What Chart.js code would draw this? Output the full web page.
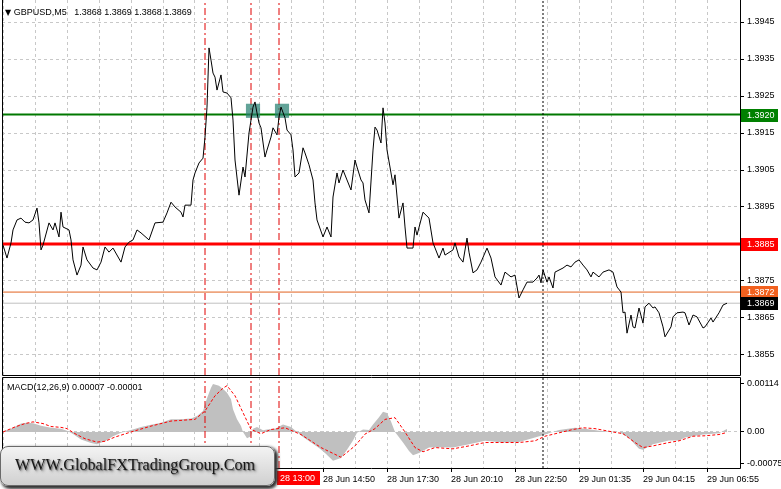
<!DOCTYPE html>
<html>
<head>
<meta charset="utf-8">
<script src="https://cdn.jsdelivr.net/npm/chart.js@4.4.1/dist/chart.umd.min.js"></script>
<style>
html,body{margin:0;padding:0;background:#fff;width:781px;height:489px;overflow:hidden;position:relative;}
canvas{position:absolute;left:0;}
#main{top:0;}
#macd{top:376px;}
.lbl{position:absolute;font-family:"Liberation Sans",Arial,sans-serif;font-size:9px;line-height:9px;color:#000;white-space:pre;}
.tri{font-family:"DejaVu Sans",sans-serif;font-size:8px;}
#wm{position:absolute;left:0;top:446px;width:273px;height:38px;border-radius:8px;background:linear-gradient(#f3f3f3,#d0d0d0);border:1px solid #6a6a6a;box-shadow:2px 2px 3px 1px #333;overflow:hidden;}
#wm span{position:absolute;left:14px;top:9px;font-family:"Liberation Serif","Times New Roman",serif;font-size:17px;line-height:17px;color:#161616;white-space:nowrap;text-shadow:1px 1px 1px #777,2px 2px 3px #888;transform:scaleX(0.95);transform-origin:left top;}
</style>
</head>
<body>
<canvas id="main" width="781" height="376"></canvas>
<canvas id="macd" width="781" height="113"></canvas>
<div class="lbl" style="left:5px;top:8px"><span class="tri">▼</span> GBPUSD,M5   1.3868 1.3869 1.3868 1.3869</div>
<div class="lbl" style="left:7px;top:383px">MACD(12,26,9) 0.00007 -0.00001</div>
<div id="wm"><span>WWW.GlobalFXTradingGroup.Com</span></div>
<script>
// ---------- DATA (5-minute bars counted from the left edge of the window) ----------
const priceBars = [
  0,2,4,5,7,9,11,13,15,17,
  18,19,20,23,25,26,28,29,30,33,
  34,35,37,39,40,42,45,47,49,51,
  53,55,59,61,63,65,67,69,73,76,
  80,82,84,86,89,90,91,94,95,96,
  98,100,101,102,103,104,105,106,107,109,
  110,112,114,115,116,118,120,121,123,125,
  126,127,128,129,131,132,134,135,137,138,
  139,141,142,144,145,146,148,150,151,153,
  155,156,157,160,162,164,165,167,168,170,
  172,174,176,177,179,180,181,183,185,186,
  187,189,190,191,192,194,195,196,198,200,
  201,202,205,206,207,210,213,215,218,220,
  221,225,226,228,230,232,233,235,237,239,
  242,244,246,249,251,254,256,258,260,262,
  265,267,268,269,270,272,273,275,276,280,
  282,284,286,288,290,292,294,295,298,300,
  303,305,307,309,310,311,312,314,315,316,
  318,320,321,323,325,326,328,330,331,334,
  335,337,340,341,343,345,347,350,351,354,
  355,358,360,362
];
const priceClose = [
  1.38847,1.38812,1.38853,1.38888,1.38915,1.38920,1.38909,1.38907,1.38915,1.38947,
  1.38907,1.38834,1.38847,1.38907,1.38888,1.38907,1.38869,1.38936,1.38896,1.38888,
  1.38861,1.38807,1.38766,1.38793,1.38842,1.38807,1.38785,1.38780,1.38801,1.38842,
  1.38828,1.38839,1.38801,1.38842,1.38855,1.38861,1.38888,1.38880,1.38861,1.38907,
  1.38909,1.38934,1.38963,1.38950,1.38936,1.38923,1.38955,1.38955,1.39023,1.39042,
  1.39069,1.39082,1.39139,1.39220,1.39380,1.39347,1.39312,1.39301,1.39266,1.39307,
  1.39261,1.39258,1.39245,1.39185,1.39077,1.38982,1.39058,1.39031,1.39150,1.39220,
  1.39234,1.39204,1.39177,1.39164,1.39085,1.39104,1.39139,1.39164,1.39145,1.39193,
  1.39220,1.39191,1.39158,1.39145,1.39104,1.39031,1.39042,1.39110,1.39096,1.39064,
  1.39023,1.38961,1.38915,1.38869,1.38896,1.38869,1.38977,1.39042,1.39015,1.39050,
  1.39023,1.38996,1.39077,1.39058,1.39023,1.39015,1.38969,1.38934,1.39104,1.39166,
  1.39158,1.39123,1.39218,1.39177,1.39104,1.39042,1.39010,1.39037,1.38920,1.38961,
  1.38896,1.38839,1.38839,1.38896,1.38874,1.38936,1.38920,1.38853,1.38812,1.38839,
  1.38820,1.38834,1.38853,1.38815,1.38801,1.38866,1.38828,1.38772,1.38780,1.38801,
  1.38839,1.38812,1.38761,1.38739,1.38774,1.38761,1.38766,1.38704,1.38726,1.38747,
  1.38747,1.38758,1.38766,1.38745,1.38780,1.38747,1.38761,1.38731,1.38774,1.38785,
  1.38793,1.38788,1.38801,1.38807,1.38793,1.38780,1.38761,1.38774,1.38761,1.38774,
  1.38780,1.38774,1.38734,1.38720,1.38664,1.38666,1.38609,1.38658,1.38626,1.38623,
  1.38677,1.38636,1.38680,1.38690,1.38677,1.38680,1.38664,1.38626,1.38599,1.38626,
  1.38653,1.38664,1.38666,1.38664,1.38631,1.38658,1.38653,1.38623,1.38626,1.38650,
  1.38639,1.38664,1.38685,1.38690
];
const macdBars = [
  0,4,9,12,15,19,24,29,32,35,
  39,44,47,51,55,59,64,69,74,79,
  84,89,94,97,100,102,104,105,108,110,
  112,114,115,117,119,120,122,124,125,127,
  130,132,136,140,144,147,150,154,158,161,
  165,169,172,175,177,180,183,185,188,190,
  192,194,196,200,203,205,208,213,218,225,
  233,241,250,258,266,271,278,286,291,300,
  308,313,318,320,325,333,338,341,350,358,
  361,362
];
const macdMain = [
  0.00002,0.00008,0.0002,0.00022,0.00021,0.00015,0.0001,0.00008,0.00003,-0.00005,
  -0.00018,-0.00026,-0.00029,-0.00022,-0.0001,-0.00002,0.00005,0.00012,0.00017,0.00022,
  0.0003,0.0003,0.00032,0.00038,0.0005,0.0008,0.00105,0.00114,0.0011,0.00102,
  0.00093,0.00078,0.00054,0.0003,0.00014,0.0,-0.00015,-0.0001,0.00008,0.00012,
  0.00004,0.00006,0.00008,0.00018,0.00012,0.0,-0.00012,-0.00025,-0.00038,-0.0005,
  -0.00068,-0.00062,-0.00042,-0.0002,-0.00002,0.00006,0.00005,0.00018,0.00035,0.00048,
  0.00045,0.00025,0.0,-0.00025,-0.00045,-0.00055,-0.0005,-0.00037,-0.00036,-0.00037,
  -0.00029,-0.00021,-0.00025,-0.00024,-0.00013,-0.00006,0.00005,0.0001,0.00008,0.00002,
  0.0,-0.00014,-0.0004,-0.00042,-0.00029,-0.0002,-0.0002,-0.00013,-0.00006,-0.00003,
  0.00005,0.00007
];
const signalBars = [
  0,6,11,15,20,24,29,32,36,41,
  47,51,56,64,74,84,96,101,106,110,
  112,116,120,124,129,134,141,149,159,169,
  176,181,186,191,196,201,206,210,216,225,
  233,241,258,266,271,278,285,290,296,305,
  310,316,320,325,333,338,345,351,358,362
];
const macdSignal = [
  0.0,0.00012,0.0002,0.00024,0.0002,0.00013,0.00011,0.00008,-0.00004,-0.00016,
  -0.00024,-0.00022,-0.00012,0.0,0.00014,0.00026,0.0003,0.0005,0.00086,0.00104,
  0.0011,0.00086,0.00046,0.00006,-0.00004,0.00006,0.0001,-0.00006,-0.00037,-0.0006,
  -0.00033,-0.00005,0.00008,0.0003,0.00034,0.0,-0.00037,-0.00047,-0.00037,-0.0004,
  -0.00033,-0.00025,-0.00025,-0.00021,-0.0001,-0.00002,0.00006,0.0001,0.00008,0.0,
  -0.00004,-0.00025,-0.00037,-0.00033,-0.00025,-0.00021,-0.0001,-0.00009,-0.00006,-0.00001
];
const priceTicks = [1.3855,1.3865,1.3875,1.3885,1.3895,1.3905,1.3915,1.3925,1.3935,1.3945];
const macdTicks = [-0.00075,0,0.00114];
const gridBars = [0,16,32,48,64,80,96,112,128,144,160,176,192,208,224,240,256,272,288,304,320,336,352];
const timeTickBars = [160,192,224,256,288,320,352];
const timeTickLabels = ['28 Jun 14:50','28 Jun 17:30','28 Jun 20:10','28 Jun 22:50','29 Jun 01:35','29 Jun 04:15','29 Jun 06:55'];
const levelPrices = [1.3920,1.3885,1.3872,1.3869];
const levelLabels = ['1.3920','1.3885','1.3872','1.3869'];
const markerBars = [125,139.5];
const markerPrices = [1.3921,1.3921];
const redLineBars = [101,124,138];
const dayLineBar = 270;
const cursorLabel = '28 13:00';

// ---------- STYLE ----------
const X_MIN=-0.5, X_MAX=368.5;
const PRICE_MIN=1.384959, PRICE_MAX=1.395095;
const MACD_MIN=-0.000855, MACD_MAX=0.001306;
const FONT='"Liberation Sans", Arial, sans-serif';
const GRID='#c8c8c8';
const levelLine = [{c:'#007800',w:2},{c:'#ff0000',w:3},{c:'#e2621f',w:1},{c:'#c0c0c0',w:1}];
const levelBox = ['#008000','#ff0000','#f2611f','#000000'];

const hLine = v => [{x:X_MIN,y:v},{x:X_MAX,y:v}];
const vLine = (b,lo,hi) => [{x:b,y:lo},{x:b,y:hi}];
const pts = (xs,ys) => xs.map((b,i)=>({x:b,y:ys[i]}));
const noPad = s => { s.paddingTop=0; s.paddingBottom=0; s.paddingLeft=0; s.paddingRight=0; };

const framePlugin = (full) => ({
  id:'frame',
  afterDraw(c){
    const {ctx, chartArea:a} = c;
    ctx.save(); ctx.strokeStyle='#000'; ctx.lineWidth=1; ctx.setLineDash([]);
    ctx.beginPath();
    ctx.moveTo(a.left+0.5, full ? a.top+0.5 : a.top); ctx.lineTo(a.left+0.5, a.bottom+0.5);
    ctx.lineTo(a.right+0.5, a.bottom+0.5); ctx.lineTo(a.right+0.5, full ? a.top+0.5 : a.top);
    if (full) ctx.lineTo(a.left+0.5, a.top+0.5);
    ctx.stroke(); ctx.restore();
  }
});

const levelBoxPlugin = {
  id:'levelBoxes',
  afterDraw(c){
    const {ctx} = c; const y = c.scales.y; const a = c.chartArea;
    ctx.save();
    ctx.font = '9px ' + FONT; ctx.textBaseline='middle'; ctx.textAlign='left';
    levelPrices.forEach((p,i)=>{
      const py = Math.round(y.getPixelForValue(p));
      ctx.fillStyle = levelBox[i];
      ctx.fillRect(a.right+1, py-6, 37, 13);
      ctx.fillStyle = '#fff';
      ctx.fillText(levelLabels[i], a.right+7, py+0.5);
    });
    ctx.restore();
  }
};

const cursorPlugin = {
  id:'cursorLabel',
  afterDraw(c){
    const {ctx} = c; const x = c.scales.x; const a = c.chartArea;
    const px = Math.round(x.getPixelForValue(redLineBars[2]));
    ctx.save();
    ctx.fillStyle='#ff0000';
    ctx.fillRect(px-2, a.bottom+3, 43, 14);
    ctx.fillStyle='#fff'; ctx.font='9px '+FONT; ctx.textBaseline='middle'; ctx.textAlign='left';
    ctx.fillText(cursorLabel, px+1, a.bottom+10.5);
    ctx.restore();
  }
};

// ---------- MAIN PRICE PANEL ----------
const mainSets = [
  {data:pts(priceBars,priceClose), borderColor:'#000', borderWidth:1, pointRadius:0, tension:0, order:0},
  {data:pts(markerBars,markerPrices), showLine:false, pointStyle:'rect', pointRadius:10, pointBackgroundColor:'rgba(38,128,112,0.72)', pointBorderWidth:0, order:1}
];
levelPrices.forEach((p,i)=>mainSets.push({data:hLine(p), borderColor:levelLine[i].c, borderWidth:levelLine[i].w, pointRadius:0, order:3-i*0.1}));
redLineBars.forEach(b=>mainSets.push({data:vLine(b,PRICE_MIN,PRICE_MAX), borderColor:'#e00000', borderWidth:1, borderDash:[7,3,2,3], pointRadius:0, order:2}));
mainSets.push({data:vLine(dayLineBar,PRICE_MIN,PRICE_MAX), borderColor:'#000', borderWidth:1, borderDash:[2,2], pointRadius:0, order:2});

new Chart(document.getElementById('main'), {
  type:'line',
  data:{datasets:mainSets},
  options:{
    responsive:false, animation:false, devicePixelRatio:1,
    layout:{autoPadding:false, padding:{left:2,right:0,top:0,bottom:1}},
    plugins:{legend:{display:false}, tooltip:{enabled:false}},
    scales:{
      x:{type:'linear', min:X_MIN, max:X_MAX,
         afterBuildTicks:s=>{s.ticks=gridBars.map(v=>({value:v}));},
         afterFit:s=>{s.height=0; noPad(s);},
         ticks:{display:false},
         grid:{color:GRID, drawTicks:false},
         border:{display:false, dash:[3,3]}},
      y:{position:'right', min:PRICE_MIN, max:PRICE_MAX,
         afterBuildTicks:s=>{s.ticks=priceTicks.map(v=>({value:v}));},
         afterFit:s=>{s.width=41; noPad(s);},
         ticks:{font:{family:FONT,size:9}, color:'#000', padding:3, callback:v=>v.toFixed(4)},
         grid:{color:GRID, tickColor:'#000', tickLength:4},
         border:{display:false, dash:[3,3]}}
    }
  },
  plugins:[framePlugin(false), levelBoxPlugin]
});

// ---------- MACD PANEL ----------
const macdSets = [
  {data:pts(signalBars,macdSignal), borderColor:'#ff0000', borderWidth:1, borderDash:[3,2], pointRadius:0, tension:0, order:0},
  {data:pts(macdBars,macdMain), borderColor:'rgba(0,0,0,0)', borderWidth:0, backgroundColor:'#c0c0c0', fill:'origin', pointRadius:0, tension:0, order:5}
];
redLineBars.forEach(b=>macdSets.push({data:vLine(b,MACD_MIN,MACD_MAX), borderColor:'#e00000', borderWidth:1, borderDash:[7,3,2,3], pointRadius:0, order:1}));
macdSets.push({data:vLine(dayLineBar,MACD_MIN,MACD_MAX), borderColor:'#000', borderWidth:1, borderDash:[2,2], pointRadius:0, order:1});

new Chart(document.getElementById('macd'), {
  type:'line',
  data:{datasets:macdSets},
  options:{
    responsive:false, animation:false, devicePixelRatio:1,
    layout:{autoPadding:false, padding:{left:2,right:0,top:1,bottom:0}},
    plugins:{legend:{display:false}, tooltip:{enabled:false}},
    scales:{
      x:{type:'linear', min:X_MIN, max:X_MAX,
         afterBuildTicks:s=>{s.ticks=gridBars.map(v=>({value:v}));},
         afterFit:s=>{s.height=21; noPad(s);},
         ticks:{autoSkip:false, maxRotation:0, minRotation:0, align:'start', padding:2,
                font:{family:FONT,size:9}, color:'#000',
                callback:v=>{const i=timeTickBars.indexOf(v); return i<0?'':timeTickLabels[i];}},
         grid:{color:GRID, tickLength:4, tickColor:c=>timeTickBars.includes(c.tick.value)?'#000':'rgba(0,0,0,0)'},
         border:{display:false, dash:[3,3]}},
      y:{position:'right', min:MACD_MIN, max:MACD_MAX,
         afterBuildTicks:s=>{s.ticks=macdTicks.map(v=>({value:v}));},
         afterFit:s=>{s.width=41; noPad(s);},
         ticks:{font:{family:FONT,size:9}, color:'#000', padding:3, callback:v=>v===0?'0.00':v.toFixed(5)},
         grid:{color:c=>c.tick.value===0?GRID:'rgba(0,0,0,0)', tickColor:'#000', tickLength:4},
         border:{display:false, dash:[3,3]}}
    }
  },
  plugins:[framePlugin(true), cursorPlugin]
});
</script>
</body>
</html>
